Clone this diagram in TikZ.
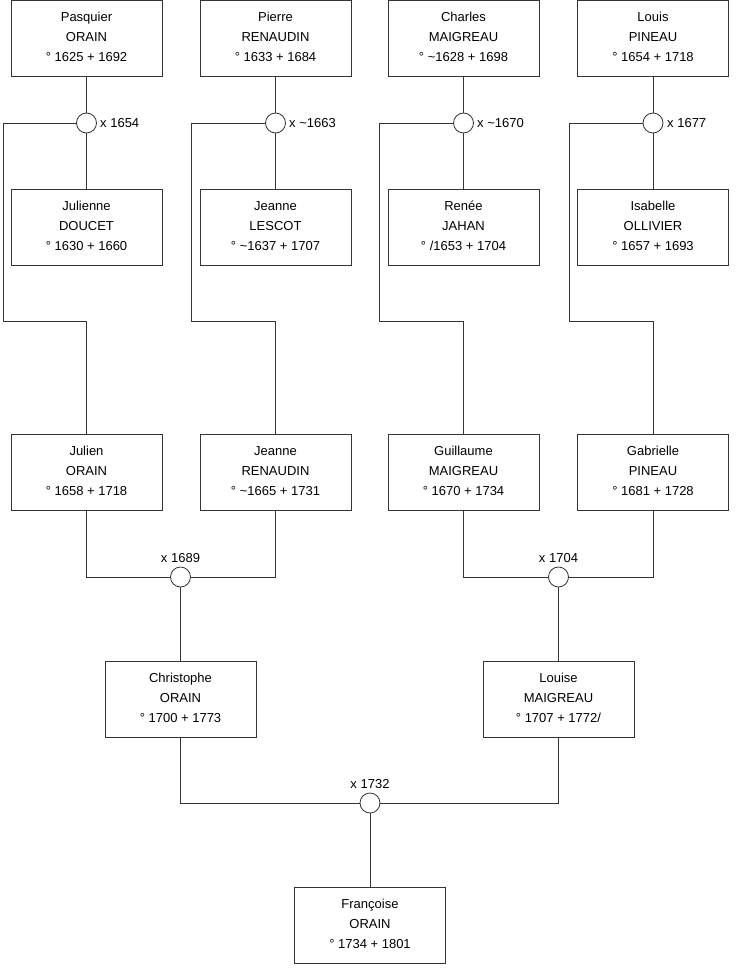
\documentclass[tikz,border=0pt]{standalone}
\usepackage{fontspec}
\setmainfont{Liberation Sans}
\newcommand{\fst}{\rule{0pt}{10pt}}
\begin{document}
\begin{tikzpicture}[x=1pt,y=-1pt,
  person/.style={draw=black!80, line width=0.8pt, minimum width=151pt, minimum height=76pt, align=center, font=\fontsize{13}{20}\selectfont, inner sep=0pt, text depth=4pt},
  marr/.style={circle, draw=black!80, line width=0.8pt, fill=white, minimum size=20pt, inner sep=0pt},
  link/.style={draw=black!80, line width=0.8pt},
  lbl/.style={font=\fontsize{13}{15}\selectfont, inner sep=0pt}]
\useasboundingbox (0,0) rectangle (740,975);
% row 1
\node[person] (pasq) at (86.5,38.5) {\fst Pasquier\\ORAIN\\° 1625 + 1692};
\node[person] (pier) at (275.5,38.5) {\fst Pierre\\RENAUDIN\\° 1633 + 1684};
\node[person] (char) at (463.5,38.5) {\fst Charles\\MAIGREAU\\° \textasciitilde 1628 + 1698};
\node[person] (loui) at (653,38.5) {\fst Louis\\PINEAU\\° 1654 + 1718};
% row 2
\node[person] (juli1) at (86.5,227) {\fst Julienne\\DOUCET\\° 1630 + 1660};
\node[person] (jean1) at (275.5,227) {\fst Jeanne\\LESCOT\\° \textasciitilde 1637 + 1707};
\node[person] (rene) at (463.5,227) {\fst Renée\\JAHAN\\° /1653 + 1704};
\node[person] (isab) at (653,227) {\fst Isabelle\\OLLIVIER\\° 1657 + 1693};
% row 3
\node[person] (julien) at (86.5,472.5) {\fst Julien\\ORAIN\\° 1658 + 1718};
\node[person] (jean2) at (275.5,472.5) {\fst Jeanne\\RENAUDIN\\° \textasciitilde 1665 + 1731};
\node[person] (guil) at (463.5,472.5) {\fst Guillaume\\MAIGREAU\\° 1670 + 1734};
\node[person] (gabr) at (653,472.5) {\fst Gabrielle\\PINEAU\\° 1681 + 1728};
% row 4
\node[person] (chri) at (180.5,699) {\fst Christophe\\ORAIN\\° 1700 + 1773};
\node[person] (loue) at (558.5,699) {\fst Louise\\MAIGREAU\\° 1707 + 1772/};
% row 5
\node[person] (fran) at (370,925.5) {\fst Françoise\\ORAIN\\° 1734 + 1801};
% marriages
\node[marr] (m1) at (86.5,123) {};
\node[marr] (m2) at (275.5,123) {};
\node[marr] (m3) at (463.5,123) {};
\node[marr] (m4) at (653,123) {};
\node[marr] (m5) at (180.5,577) {};
\node[marr] (m6) at (558.5,577) {};
\node[marr] (m7) at (370,803) {};
\node[lbl, anchor=west] (l1) at (100,123) {x 1654};
\node[lbl, anchor=west] (l2) at (289,123) {x \textasciitilde 1663};
\node[lbl, anchor=west] (l3) at (477,123) {x \textasciitilde 1670};
\node[lbl, anchor=west] (l4) at (667,123) {x 1677};
\node[lbl, anchor=south] (l5) at (180.5,563) {x 1689};
\node[lbl, anchor=south] (l6) at (558.5,563) {x 1704};
\node[lbl, anchor=south] (l7) at (370,789) {x 1732};
% turning points
\coordinate (a1) at (3,321);
\coordinate (a2) at (191,321);
\coordinate (a3) at (379,321);
\coordinate (a4) at (569,321);
% connectors
\draw[link] (pasq) -- (m1) -- (juli1);
\draw[link] (pier) -- (m2) -- (jean1);
\draw[link] (char) -- (m3) -- (rene);
\draw[link] (loui) -- (m4) -- (isab);
\draw[link] (m1.west) -| (a1) -| (julien.north);
\draw[link] (m2.west) -| (a2) -| (jean2.north);
\draw[link] (m3.west) -| (a3) -| (guil.north);
\draw[link] (m4.west) -| (a4) -| (gabr.north);
\draw[link] (julien) |- (m5);
\draw[link] (jean2) |- (m5);
\draw[link] (guil) |- (m6);
\draw[link] (gabr) |- (m6);
\draw[link] (m5) -- (chri);
\draw[link] (m6) -- (loue);
\draw[link] (chri) |- (m7);
\draw[link] (loue) |- (m7);
\draw[link] (m7) -- (fran);
\end{tikzpicture}
\end{document}
